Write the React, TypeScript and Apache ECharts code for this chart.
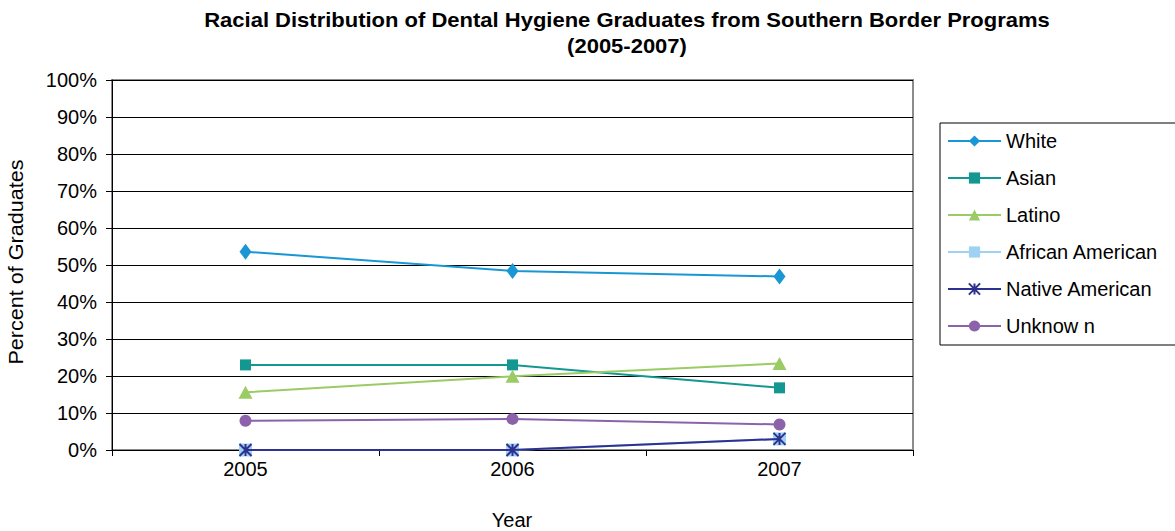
import React, { useEffect, useRef } from "react";
import * as echarts from "echarts";

const years = ["2005", "2006", "2007"];
const seriesNames = ["White", "Asian", "Latino", "African American", "Native American", "Unknow n"];
const white = [53.6, 48.4, 46.9];
const asian = [23.0, 23.0, 16.8];
const latino = [15.6, 19.9, 23.4];
const africanAmerican = [0, 0, 3.0];
const nativeAmerican = [0, 0, 3.0];
const unknown = [7.9, 8.4, 6.9];
const yTicks = [0, 10, 20, 30, 40, 50, 60, 70, 80, 90, 100];
const titleLines = [
  "Racial Distribution of Dental Hygiene Graduates from Southern Border Programs",
  "(2005-2007)",
];

const colors = ["#1897D4", "#139891", "#9BCB64", "#9FD2F2", "#2E3190", "#8C63AA"];
const FONT = "'Liberation Sans', Arial, sans-serif";
const ASTERISK = "path://M0,0L10,10M10,0L0,10M5,0L5,10";

export default function App() {
  const ref = useRef<HTMLDivElement>(null);
  useEffect(() => {
    if (!ref.current) return;
    const chart = echarts.init(ref.current, null, { renderer: "svg" });
    const datas = [white, asian, latino, africanAmerican, nativeAmerican, unknown];
    const symbols: any[] = ["diamond", "rect", "triangle", "rect", ASTERISK, "circle"];
    const sizes: any[] = [[12, 16], 11, [14, 13], 13, 12, 12];
    chart.setOption({
      animation: false,
      textStyle: { fontFamily: FONT },
      grid: {
        left: 112,
        top: 80,
        width: 801,
        height: 370,
        show: true,
        borderColor: "#8c8c8c",
        borderWidth: 2,
        containLabel: false,
      },
      legend: {
        orient: "vertical",
        left: 940,
        top: 123,
        padding: [8, 300, 9, 7],
        itemWidth: 53,
        itemHeight: 14,
        itemGap: 17,
        borderColor: "#000",
        borderWidth: 1,
        data: seriesNames,
        textStyle: { fontFamily: FONT, fontSize: 20, lineHeight: 20, color: "#000" },
      },
      xAxis: {
        type: "category",
        data: years,
        boundaryGap: true,
        axisLine: { lineStyle: { color: "#000", width: 1 } },
        axisTick: { show: true, length: 6, lineStyle: { color: "#000" } },
        axisLabel: { fontFamily: FONT, fontSize: 20, color: "#000", margin: 9 },
        splitLine: { show: false },
      },
      yAxis: {
        type: "value",
        min: 0,
        max: 100,
        interval: 10,
        axisLine: { show: true, lineStyle: { color: "#000", width: 1 } },
        axisTick: { show: true, length: 6, lineStyle: { color: "#000" } },
        axisLabel: {
          fontFamily: FONT,
          fontSize: 20,
          color: "#000",
          margin: 15,
          formatter: (v: number) => (yTicks.includes(v) ? v + "%" : ""),
        },
        splitLine: { show: true, lineStyle: { color: "#000", width: 1 } },
      },
      graphic: [
        {
          type: "text",
          x: 627,
          y: 20,
          scaleX: 1.1,
          style: {
            text: titleLines[0],
            fontFamily: FONT,
            fontSize: 20,
            fontWeight: "bold",
            fill: "#000",
            textAlign: "center",
            textVerticalAlign: "middle",
          },
        },
        {
          type: "text",
          x: 627,
          y: 46,
          scaleX: 1.1,
          style: {
            text: titleLines[1],
            fontFamily: FONT,
            fontSize: 20,
            fontWeight: "bold",
            fill: "#000",
            textAlign: "center",
            textVerticalAlign: "middle",
          },
        },
        {
          type: "text",
          x: 16,
          y: 262,
          rotation: Math.PI / 2,
          scaleX: 1.08,
          style: {
            text: "Percent of Graduates",
            fontFamily: FONT,
            fontSize: 20,
            fill: "#000",
            textAlign: "center",
            textVerticalAlign: "middle",
          },
        },
        {
          type: "text",
          x: 512,
          y: 520,
          style: {
            text: "Year",
            fontFamily: FONT,
            fontSize: 20,
            fill: "#000",
            textAlign: "center",
            textVerticalAlign: "middle",
          },
        },
      ],
      series: seriesNames.map((name, i) => ({
        name,
        type: "line",
        data: datas[i],
        symbol: symbols[i],
        symbolSize: sizes[i],
        showSymbol: true,
        lineStyle: { color: colors[i], width: 2 },
        itemStyle:
          i === 4
            ? { color: colors[i], borderColor: colors[i], borderWidth: 2 }
            : { color: colors[i] },
        z: 2 + i,
      })),
    });
    return () => chart.dispose();
  }, []);
  return (
    <div
      ref={ref}
      style={{ position: "absolute", left: 0, top: 0, width: 1175, height: 531, background: "#fff" }}
    />
  );
}
